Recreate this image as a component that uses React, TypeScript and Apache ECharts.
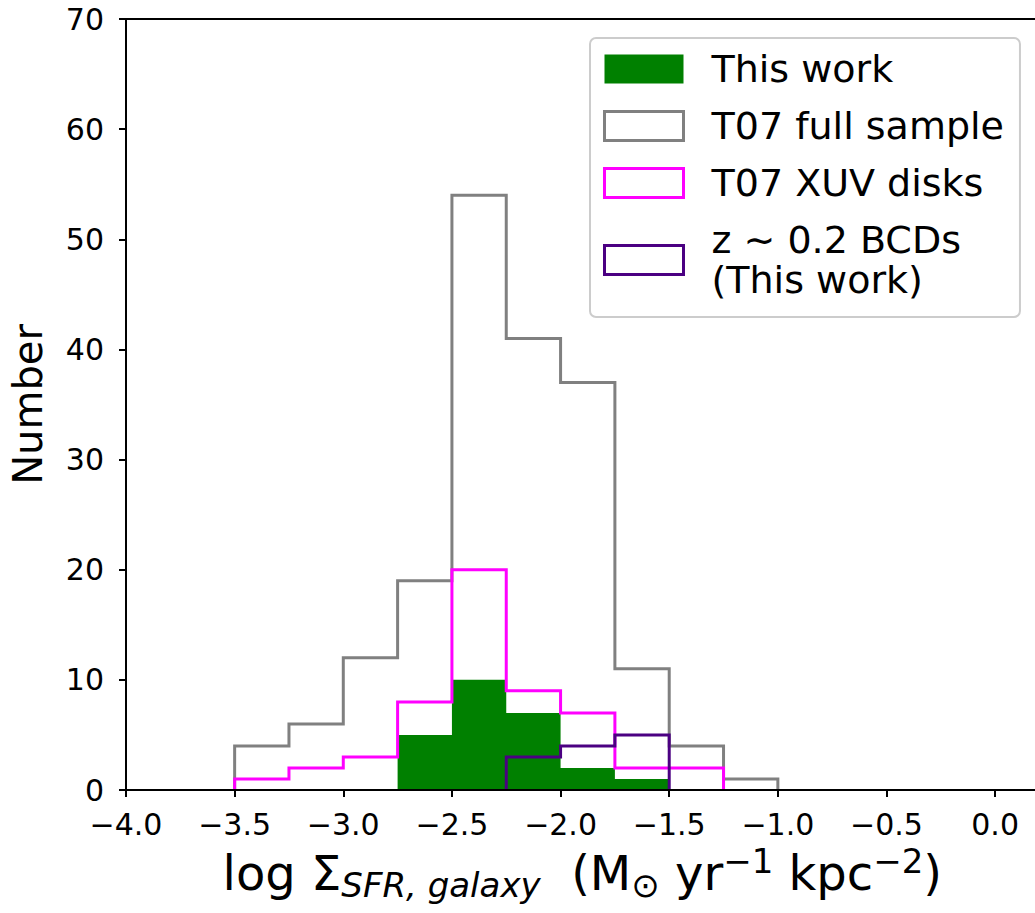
import React, { useEffect, useRef } from "react";
import * as echarts from "echarts";

// ---- Data ----
const binEdges = [-3.5, -3.25, -3.0, -2.75, -2.5, -2.25, -2.0, -1.75, -1.5, -1.25, -1.0];
const thisWorkCounts = [0, 0, 0, 5, 10, 7, 2, 1, 0, 0];
const t07FullCounts = [4, 6, 12, 19, 54, 41, 37, 11, 4, 1];
const t07XuvCounts = [1, 2, 3, 8, 20, 9, 7, 2, 2, 0];
const bcdCounts = [0, 0, 0, 0, 0, 3, 4, 5, 0, 0];
const seriesNames = ["This work", "T07 full sample", "T07 XUV disks", "z ∼ 0.2 BCDs\n(This work)"];
const seriesColors = ["#008000", "#808080", "#ff00ff", "#4b0082"];
const xMin = -4.0;
const xMax = 0.2;
const xInterval = 0.5;
const yMin = 0;
const yMax = 70;
const yInterval = 10;

const FONT = "DejaVu Sans";

function stepPoints(edges: number[], counts: number[]): number[][] {
  const first = counts.findIndex((c) => c > 0);
  let last = counts.length - 1;
  while (last > first && counts[last] === 0) last--;
  const pts: number[][] = [[edges[first], 0]];
  for (let i = first; i <= last; i++) {
    pts.push([edges[i], counts[i]]);
    pts.push([edges[i + 1], counts[i]]);
  }
  pts.push([edges[last + 1], 0]);
  return pts;
}

function fmtX(v: number): string {
  const s = Math.abs(v).toFixed(1);
  return v < -1e-9 ? "\u2212" + s : s;
}

export default function App() {
  const ref = useRef<HTMLDivElement>(null);
  useEffect(() => {
    if (!ref.current) return;
    const chart = echarts.init(ref.current, undefined, { renderer: "svg" });
    const lineSeries = (idx: number, counts: number[]) => ({
      name: seriesNames[idx],
      type: "line",
      data: stepPoints(binEdges, counts),
      symbol: "none",
      smooth: false,
      z: 3 + idx,
      lineStyle: { color: seriesColors[idx], width: 3, join: "miter", cap: "butt" },
      itemStyle: { color: seriesColors[idx] },
    });
    const option: any = {
      animation: false,
      backgroundColor: "#ffffff",
      grid: {
        left: 126,
        top: 19,
        width: 912.6,
        height: 771,
        show: true,
        backgroundColor: "transparent",
        borderColor: "#000",
        borderWidth: 2,
        containLabel: false,
        outerBoundsMode: "none",
      },
      xAxis: {
        type: "value",
        min: xMin,
        max: xMax,
        interval: xInterval,
        z: 10,
        axisLine: { show: true, onZero: false, lineStyle: { color: "#000", width: 2 } },
        axisTick: { show: true, inside: false, length: 7, lineStyle: { color: "#000", width: 2 } },
        axisLabel: {
          show: true,
          margin: 19,
          fontSize: 30,
          fontFamily: FONT,
          color: "#000",
          showMaxLabel: false,
          hideOverlap: false,
          formatter: (v: number) => fmtX(v),
        },
        splitLine: { show: false },
        name:
          "{b|log Σ}{s|SFR, galaxy}{b|  (M}{o|⊙}{b| yr}{p|−1}{b| kpc}{p|−2}{b|)}",
        nameLocation: "middle",
        nameGap: 54,
        nameMoveOverlap: false,
        nameTextStyle: {
          rich: {
            b: { fontFamily: FONT, fontSize: 48, color: "#000", lineHeight: 58, verticalAlign: "middle" },
            s: { fontFamily: FONT, fontSize: 34, fontStyle: "italic", color: "#000", lineHeight: 34, verticalAlign: "bottom" },
            o: { fontFamily: FONT, fontSize: 34, color: "#000", lineHeight: 34, verticalAlign: "bottom" },
            p: { fontFamily: FONT, fontSize: 34, color: "#000", lineHeight: 34, verticalAlign: "top" },
          },
        },
      },
      yAxis: {
        type: "value",
        min: yMin,
        max: yMax,
        interval: yInterval,
        z: 10,
        axisLine: { show: true, onZero: false, lineStyle: { color: "#000", width: 2 } },
        axisTick: { show: true, inside: false, length: 7, lineStyle: { color: "#000", width: 2 } },
        axisLabel: { show: true, margin: 22, fontSize: 30, fontFamily: FONT, color: "#000" },
        splitLine: { show: false },
        name: "Number",
        nameLocation: "middle",
        nameRotate: 90,
        nameGap: 78,
        nameMoveOverlap: false,
        nameTextStyle: { fontFamily: FONT, fontSize: 40, color: "#000" },
      },
      legend: {
        orient: "vertical",
        left: 590,
        top: 38,
        padding: [11, 16, 17, 13],
        itemGap: 17,
        itemWidth: 79,
        itemHeight: 29,
        backgroundColor: "rgba(255,255,255,0.8)",
        borderColor: "#cccccc",
        borderWidth: 2,
        borderRadius: 6,
        selectedMode: false,
        textStyle: { fontFamily: FONT, fontSize: 38, color: "#000", lineHeight: 40, padding: [0, 0, 0, 23] },
        data: [
          { name: seriesNames[0], icon: "rect", itemStyle: { color: seriesColors[0], borderWidth: 0 } },
          { name: seriesNames[1], icon: "rect", itemStyle: { color: "#ffffff", borderColor: seriesColors[1], borderWidth: 3 } },
          { name: seriesNames[2], icon: "rect", itemStyle: { color: "#ffffff", borderColor: seriesColors[2], borderWidth: 3 } },
          { name: seriesNames[3], icon: "rect", itemStyle: { color: "#ffffff", borderColor: seriesColors[3], borderWidth: 3 } },
        ],
      },
      series: [
        {
          name: seriesNames[0],
          type: "line",
          data: stepPoints(binEdges, thisWorkCounts),
          symbol: "none",
          smooth: false,
          z: 2,
          lineStyle: { width: 0, color: seriesColors[0] },
          itemStyle: { color: seriesColors[0] },
          areaStyle: { color: seriesColors[0], opacity: 1 },
        },
        lineSeries(1, t07FullCounts),
        lineSeries(2, t07XuvCounts),
        lineSeries(3, bcdCounts),
      ],
    };
    chart.setOption(option);
    return () => chart.dispose();
  }, []);
  return (
    <div
      ref={ref}
      style={{ position: "fixed", left: 0, top: 0, width: 1035, height: 913, overflow: "hidden", background: "#fff" }}
    />
  );
}
